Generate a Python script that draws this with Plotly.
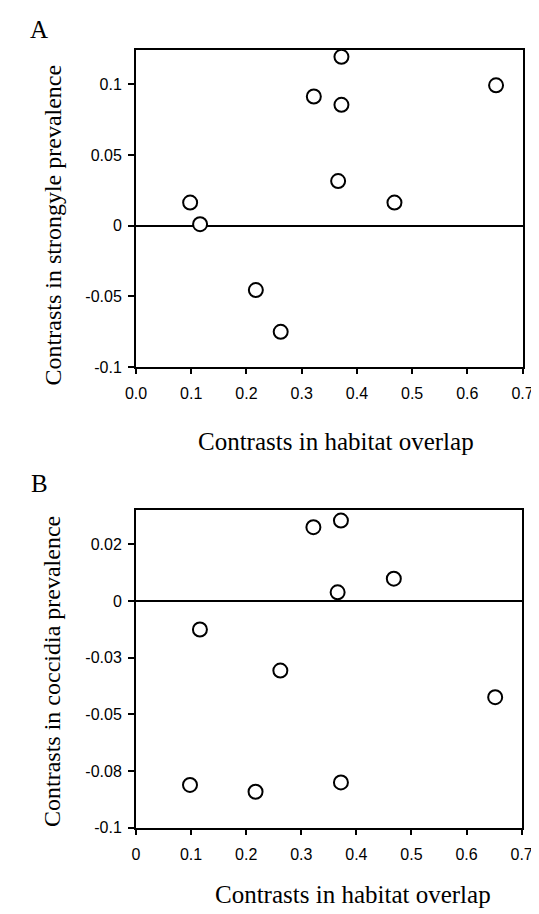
import plotly.graph_objects as go

# Data (same x order for both panels)
habitat_overlap = [0.098, 0.116, 0.217, 0.262, 0.322, 0.372, 0.372, 0.366, 0.468, 0.652]
strongyle = [0.0164, 0.0011, -0.0455, -0.075, 0.0914, 0.1195, 0.0855, 0.0316, 0.0164, 0.0993]
coccidia = [-0.0811, -0.0126, -0.0841, -0.0307, 0.0325, 0.0354, -0.080, 0.0038, 0.0098, -0.0424]

x_ticks = [0, 0.1, 0.2, 0.3, 0.4, 0.5, 0.6, 0.7]
x_ticktext_a = ["0.0", "0.1", "0.2", "0.3", "0.4", "0.5", "0.6", "0.7"]
x_ticktext_b = ["0", "0.1", "0.2", "0.3", "0.4", "0.5", "0.6", "0.7"]
y_ticks_a = [0.1, 0.05, 0, -0.05, -0.1]
y_ticktext_a = ["0.1", "0.05", "0", "-0.05", "-0.1"]
y_ticks_b = [0.025, 0, -0.025, -0.05, -0.075, -0.1]
y_ticktext_b = ["0.02", "0", "-0.03", "-0.05", "-0.08", "-0.1"]

W, H = 539, 914
fig = go.Figure()

marker = dict(symbol="circle", size=14, color="white", line=dict(color="black", width=2))
fig.add_trace(go.Scatter(x=habitat_overlap, y=strongyle, mode="markers", marker=marker,
                         xaxis="x", yaxis="y", showlegend=False))
fig.add_trace(go.Scatter(x=habitat_overlap, y=coccidia, mode="markers", marker=marker,
                         xaxis="x2", yaxis="y2", showlegend=False))

tickfont = dict(family="Liberation Sans, Arial, sans-serif", size=16, color="black")
common_x = dict(range=[0, 0.7], tickvals=x_ticks, showgrid=False, zeroline=False,
                showline=True, linecolor="black", linewidth=2, mirror=True,
                ticks="outside", ticklen=5, tickwidth=1.5, tickcolor="black",
                tickfont=tickfont, ticklabelstandoff=6)
common_y = dict(showgrid=False, zeroline=True, zerolinecolor="black", zerolinewidth=1.5,
                showline=True, linecolor="black", linewidth=2, mirror=True,
                ticks="outside", ticklen=6, tickwidth=1.5, tickcolor="black",
                tickfont=tickfont, ticklabelstandoff=3)

fig.update_layout(
    width=W, height=H,
    margin=dict(l=0, r=0, t=0, b=0),
    paper_bgcolor="white", plot_bgcolor="white",
    xaxis=dict(domain=[122 / W, 525 / W], anchor="y", ticktext=x_ticktext_a, **common_x),
    yaxis=dict(domain=[1 - 362.7 / H, 1 - 42 / H], anchor="x", range=[-0.1, 0.1246],
               tickvals=y_ticks_a, ticktext=y_ticktext_a, **common_y),
    xaxis2=dict(domain=[122 / W, 524 / W], anchor="y2", ticktext=x_ticktext_b, **common_x),
    yaxis2=dict(domain=[1 - 828 / H, 1 - 506.7 / H], anchor="x2", range=[-0.1, 0.0402],
                tickvals=y_ticks_b, ticktext=y_ticktext_b, **common_y),
)

serif_family = "Liberation Serif, Times New Roman, serif"
xtitle = dict(family=serif_family, size=25, color="black")
ytitle = dict(family=serif_family, size=24, color="black")
ann = [
    dict(text="A", x=21 / W, y=1 - 22 / H, font=dict(family=serif_family, size=25, color="black")),
    dict(text="B", x=21 / W, y=1 - 480 / H, font=dict(family=serif_family, size=25, color="black")),
    dict(text="Contrasts in habitat overlap", x=330 / W, y=1 - 438 / H, font=xtitle),
    dict(text="Contrasts in habitat overlap", x=348 / W, y=1 - 895 / H, font=xtitle),
    dict(text="Contrasts in strongyle prevalence", x=35 / W, y=1 - 219 / H, font=ytitle, textangle=-90),
    dict(text="Contrasts in coccidia prevalence", x=35 / W, y=1 - 670 / H, font=ytitle, textangle=-90),
]
for a in ann:
    fig.add_annotation(xref="paper", yref="paper", xanchor="center", yanchor="middle",
                       showarrow=False, **a)

fig.write_html("out.html")
